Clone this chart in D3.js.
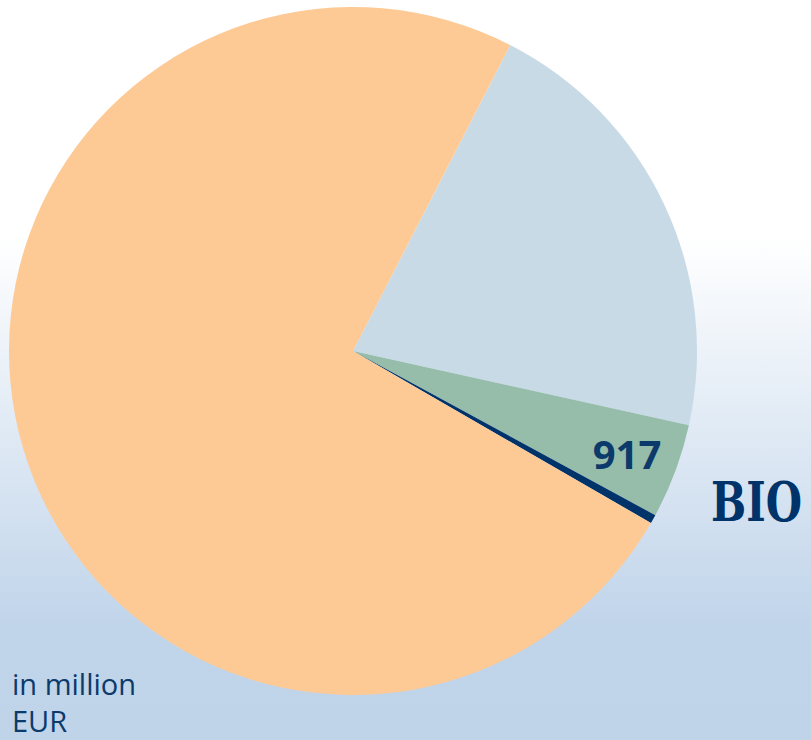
<!DOCTYPE html>
<html>
<head>
<meta charset="utf-8">
<script src="https://cdn.jsdelivr.net/npm/d3@7"></script>
<style>
  html, body { margin: 0; padding: 0; overflow: hidden; }
  svg { display: block; }
</style>
</head>
<body>
<svg id="chart" width="811" height="740"></svg>
<script>
// ---- data (in million EUR) ----
const categories = ["Segment A", "Segment B", "BIO", "Segment C"];
const values = [4300, 917, 85, 15266];
const colors = ["#C8DAE6", "#96BDAA", "#00336A", "#FDCA96"];
const valueLabels = ["", "917", "", ""];
const unitLines = ["in million", "EUR"];
const sideLabel = "BIO";

const W = 811, H = 740;
const cx = 353, cy = 351, R = 344;

const svg = d3.select("#chart");

// background gradient
const defs = svg.append("defs");
const grad = defs.append("linearGradient")
  .attr("id", "bg").attr("x1", 0).attr("y1", 0).attr("x2", 0).attr("y2", 1);
grad.append("stop").attr("offset", "0").attr("stop-color", "#FFFFFF");
grad.append("stop").attr("offset", "0.32").attr("stop-color", "#FFFFFF");
grad.append("stop").attr("offset", "0.85").attr("stop-color", "#C0D4EA");
grad.append("stop").attr("offset", "1").attr("stop-color", "#BFD3E9");
svg.append("rect").attr("width", W).attr("height", H).attr("fill", "url(#bg)");

const data = categories.map((c, i) => ({ name: c, value: values[i], color: colors[i], label: valueLabels[i] }));

const start = 27.2 * Math.PI / 180;
const pie = d3.pie().value(d => d.value).sort(null)
  .startAngle(start).endAngle(start + 2 * Math.PI);
const arcs = pie(data);
const arc = d3.arc().innerRadius(0).outerRadius(R);

const g = svg.append("g").attr("transform", `translate(${cx},${cy})`);
g.selectAll("path").data(arcs).enter().append("path")
  .attr("d", arc)
  .attr("fill", d => d.data.color);

// value label
g.selectAll("text.val").data(arcs.filter(d => d.data.label)).enter().append("text")
  .attr("class", "val")
  .attr("transform", d => {
    const a = (d.startAngle + d.endAngle) / 2 + 0.005;
    const x = Math.sin(a) * 293, y = -Math.cos(a) * 293;
    return `translate(${x},${y})`;
  })
  .attr("text-anchor", "middle")
  .attr("dy", "0.36em")
  .attr("font-family", "'Open Sans', sans-serif")
  .attr("font-weight", 700)
  .attr("font-size", 40)
  .attr("fill", "#0B3A6B")
  .text(d => d.data.label);

// side label (horizontally compressed to the reference width)
const side = svg.append("text")
  .attr("x", 0).attr("y", 0)
  .attr("font-family", "'DejaVu Serif', serif")
  .attr("font-weight", 700)
  .attr("font-size", 55)
  .attr("fill", "#00336A")
  .text(sideLabel);
const natural = side.node().getComputedTextLength();
const sx = 91 / natural;
side.attr("transform", `translate(711,521) scale(${sx},1)`);

// unit note
const note = svg.append("text")
  .attr("font-family", "'Open Sans', sans-serif")
  .attr("font-size", 29)
  .attr("fill", "#0B3A6B");
unitLines.forEach((t, i) => {
  note.append("tspan").attr("x", 12).attr("y", 695 + i * 37).text(t);
});
</script>
</body>
</html>
